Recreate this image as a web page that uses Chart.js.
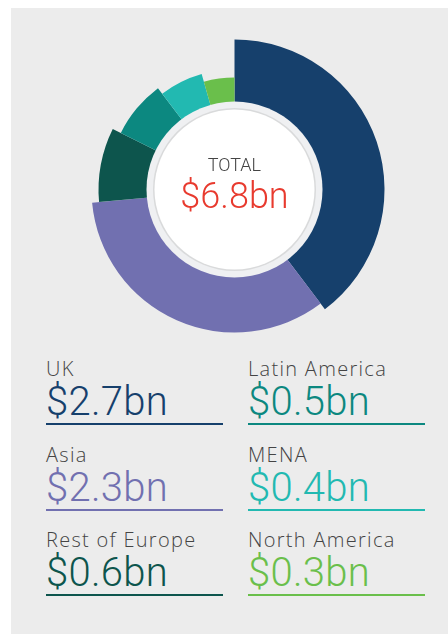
<!DOCTYPE html>
<html lang="en">
<head>
    <meta charset="UTF-8">
    <title>Funds by region</title>
    <script src="https://cdn.jsdelivr.net/npm/chart.js"></script>
    <style>
        body {
            margin: 0;
            background: #fff;
            font-family: Roboto, "Liberation Sans", Arial, sans-serif;
            font-weight: 300;
        }
        #panel {
            position: absolute;
            left: 11px;
            top: 8px;
            right: 0;
            bottom: 0;
            background: #ececec;
        }
        #grafica {
            position: absolute;
            left: 84px;
            top: 39px;
        }
        #centro {
            position: absolute;
            left: 84px;
            width: 301px;
            top: 154px;
            text-align: center;
        }
        #centro .t { font-size: 18px; line-height: 22px; color: #444; }
        #centro .v { font-size: 36px; line-height: 40px; color: #e83a2e; }
        .celda { position: absolute; width: 177px; }
        .celda .lab { position: absolute; top: 0; font-family: "Open Sans", Roboto, sans-serif; font-weight: 300; font-size: 20px; line-height: 24px; letter-spacing: 1.3px; color: #444; white-space: nowrap; }
        .celda .val { position: absolute; top: 23px; font-size: 40px; line-height: 44px; letter-spacing: 0.3px; white-space: nowrap; }
        .celda .linea { position: absolute; top: 66px; left: 0; width: 100%; height: 2px; }
    </style>
</head>
<body>
    <div id="panel"></div>
    <canvas id="grafica" width="301" height="301"></canvas>
    <div id="centro">
        <div class="t">TOTAL</div>
        <div class="v" id="total"></div>
    </div>
    <div id="leyenda"></div>

    <script>
        // datos
        const regions = ['UK', 'Asia', 'Rest of Europe', 'Latin America', 'MENA', 'North America'];
        const fundsBn = [2.7, 2.3, 0.6, 0.5, 0.4, 0.3];
        const totalBn = 6.8;

        // estilo
        const colors = ['#16406c', '#7170b0', '#0d554d', '#0c8880', '#22b9b1', '#6abf4b'];
        const sliceRadius = [150, 143, 136, 127, 120, 112];

        const fmt = v => '$' + v.toFixed(1) + 'bn';

        // el anillo central y el radio exterior de cada sector
        const anillo = {
            id: 'anillo',
            afterDatasetsUpdate(chart) {
                chart.getDatasetMeta(0).data.forEach((arc, i) => {
                    arc.outerRadius = sliceRadius[i];
                });
            },
            afterDatasetsDraw(chart) {
                const arc = chart.getDatasetMeta(0).data[0];
                const ctx = chart.ctx;
                const circ = (r, c) => {
                    ctx.beginPath();
                    ctx.arc(arc.x, arc.y, r, 0, Math.PI * 2);
                    ctx.fillStyle = c;
                    ctx.fill();
                };
                ctx.save();
                circ(88, '#eff0f2');
                circ(81.5, '#d9dadb');
                circ(80, '#ffffff');
                ctx.restore();
            }
        };

        new Chart(document.getElementById('grafica'), {
            type: 'doughnut',
            data: {
                labels: regions,
                datasets: [{
                    data: fundsBn,
                    backgroundColor: colors,
                    borderWidth: 0,
                    hoverOffset: 0,
                    offset: 0
                }]
            },
            options: {
                responsive: false,
                animation: false,
                cutout: 86,
                events: [],
                layout: { padding: 0 },
                plugins: {
                    legend: { display: false },
                    tooltip: { enabled: false }
                }
            },
            plugins: [anillo]
        });

        document.getElementById('total').textContent = fmt(totalBn);

        // leyenda en dos columnas
        const leyenda = document.getElementById('leyenda');
        regions.forEach((name, i) => {
            const col = Math.floor(i / 3);
            const row = i % 3;
            const d = document.createElement('div');
            d.className = 'celda';
            d.style.left = (col ? 248 : 46) + 'px';
            d.style.top = (357 + row * 85.5) + 'px';
            d.innerHTML = '<div class="lab">' + name + '</div>' +
                '<div class="val" style="color:' + colors[i] + '">' + fmt(fundsBn[i]) + '</div>' +
                '<div class="linea" style="background:' + colors[i] + '"></div>';
            leyenda.appendChild(d);
        });
    </script>
</body>
</html>
